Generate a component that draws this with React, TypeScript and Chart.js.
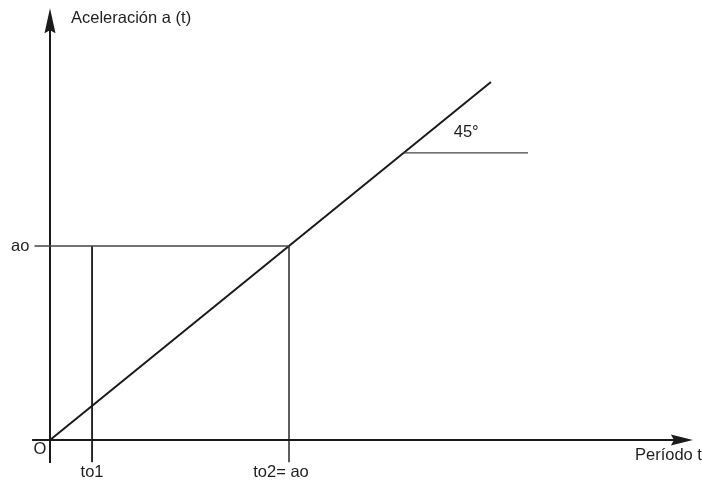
import React, { useEffect, useRef } from "react";
import { Chart, registerables } from "chart.js";

Chart.register(...registerables);

// Values (data units: to2 = ao = 10, diagonal a = t at 45°)
const AO = 10;
const TO1 = 1.76;
const TO2 = 10;
const X_AXIS_START = -0.75;
const X_AXIS_END = 26.9;
const Y_AXIS_START = -1.18;
const Y_AXIS_END = 22.25;
const DIAGONAL_END = 18.45;
const REF45_Y = 14.8;
const REF45_END = 20;
const TICK_BELOW = -1.15;
const AO_TICK_START = -0.65;

const xAxisLine = [
  { x: X_AXIS_START, y: 0 },
  { x: X_AXIS_END - 0.4, y: 0 },
];
const yAxisLine = [
  { x: 0, y: Y_AXIS_START },
  { x: 0, y: Y_AXIS_END - 0.5 },
];
const diagonalLine = [
  { x: 0, y: 0 },
  { x: DIAGONAL_END, y: DIAGONAL_END },
];
const aoLine = [
  { x: AO_TICK_START, y: AO },
  { x: TO2, y: AO },
];
const to2Line = [
  { x: TO2, y: AO },
  { x: TO2, y: TICK_BELOW },
];
const to1Line = [
  { x: TO1, y: AO },
  { x: TO1, y: TICK_BELOW },
];
const ref45Line = [
  { x: REF45_Y, y: REF45_Y },
  { x: REF45_END, y: REF45_Y },
];

const labelTexts = {
  yTitle: "Aceleración a (t)",
  xTitle: "Período t",
  origin: "O",
  to1: "to1",
  to2: "to2= ao",
  ao: "ao",
  angle: "45°",
};

const DARK = "#1a1a1a";
const GRAY = "#444444";
const TEXT = "#1f1f1f";
const FONT = '16.5px "Liberation Sans", Arial, sans-serif';

const overlayPlugin = {
  id: "overlay",
  afterDatasetsDraw(chart: any) {
    const { ctx, scales } = chart;
    const px = (v: number) => scales.x.getPixelForValue(v);
    const py = (v: number) => scales.y.getPixelForValue(v);
    ctx.save();
    ctx.fillStyle = DARK;
    // Y arrow head
    const yx = px(0);
    const yt = py(Y_AXIS_END);
    ctx.beginPath();
    ctx.moveTo(yx, yt);
    ctx.lineTo(yx + 5.5, yt + 25);
    ctx.lineTo(yx, yt + 22);
    ctx.lineTo(yx - 5.5, yt + 25);
    ctx.closePath();
    ctx.fill();
    // X arrow head
    const xt = px(X_AXIS_END);
    const xy = py(0);
    ctx.beginPath();
    ctx.moveTo(xt, xy);
    ctx.lineTo(xt - 22, xy - 5.5);
    ctx.lineTo(xt - 19, xy);
    ctx.lineTo(xt - 22, xy + 5.5);
    ctx.closePath();
    ctx.fill();

    ctx.fillStyle = TEXT;
    ctx.font = FONT;
    ctx.textBaseline = "middle";
    ctx.textAlign = "left";
    ctx.fillText(labelTexts.yTitle, yx + 21, 18);
    ctx.fillText(labelTexts.xTitle, 635, xy + 15);
    ctx.fillText(labelTexts.angle, px(REF45_Y) + 50, py(REF45_Y) - 20);
    ctx.textAlign = "center";
    ctx.fillText(labelTexts.origin, yx - 10, xy + 9);
    ctx.fillText(labelTexts.to1, px(TO1), xy + 32);
    ctx.fillText(labelTexts.to2, px(TO2) - 8, xy + 32);
    ctx.textAlign = "right";
    ctx.fillText(labelTexts.ao, px(AO_TICK_START) - 5, py(AO));
    ctx.restore();
  },
};

function seg(data: any[], color: string, width: number) {
  return {
    data,
    showLine: true,
    borderColor: color,
    borderWidth: width,
    pointRadius: 0,
    fill: false,
    borderCapStyle: "butt",
  };
}

export default function App() {
  const ref = useRef<HTMLCanvasElement>(null);
  useEffect(() => {
    if (!ref.current) return;
    const chart = new Chart(ref.current, {
      type: "scatter",
      data: {
        datasets: [
          seg(aoLine, GRAY, 1.3),
          seg(ref45Line, GRAY, 1.3),
          seg(to1Line, DARK, 1.8),
          seg(to2Line, DARK, 1.4),
          seg(xAxisLine, DARK, 2),
          seg(yAxisLine, DARK, 2),
          seg(diagonalLine, DARK, 2),
        ] as any,
      },
      options: {
        animation: false,
        responsive: false,
        maintainAspectRatio: false,
        layout: { padding: 0 },
        plugins: { legend: { display: false }, tooltip: { enabled: false } },
        scales: {
          x: { type: "linear", display: false, min: -50 / 23.9, max: 652 / 23.9 },
          y: { type: "linear", display: false, min: -43 / 19.4, max: 440 / 19.4 },
        },
      },
      plugins: [overlayPlugin],
    });
    return () => chart.destroy();
  }, []);
  return (
    <div style={{ position: "fixed", left: 0, top: 0, width: 702, height: 483, background: "#fff" }}>
      <canvas ref={ref} width={702} height={483} style={{ display: "block" }} />
    </div>
  );
}
